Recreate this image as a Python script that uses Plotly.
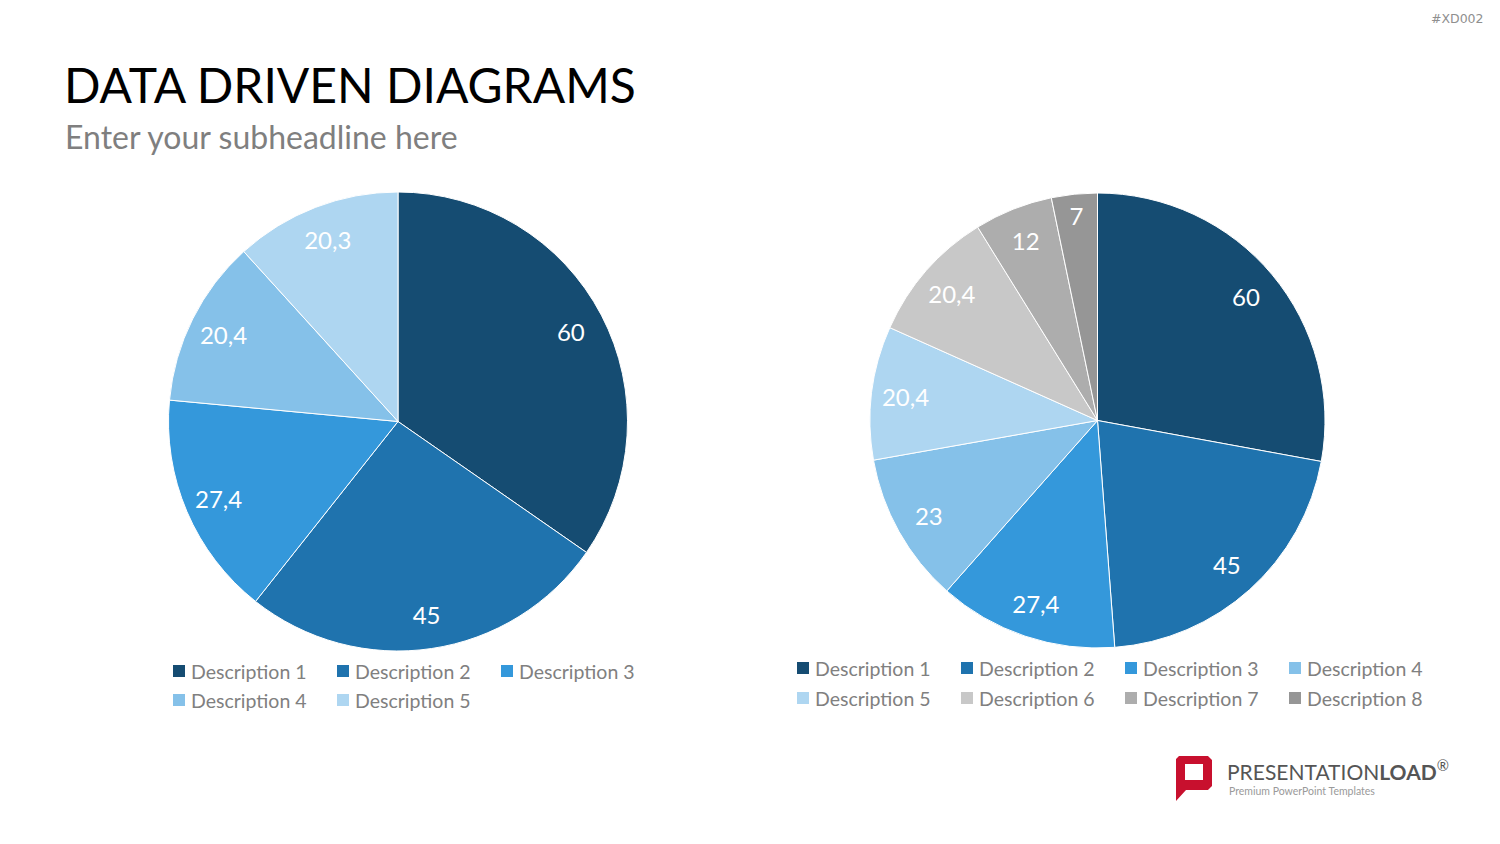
import plotly.graph_objects as go

W, H = 1500, 844

# ---------------- data ----------------
left_labels = ["Description 1", "Description 2", "Description 3", "Description 4", "Description 5"]
left_values = [60, 45, 27.4, 20.4, 20.3]
left_colors = ["#154c72", "#1f73ae", "#3498db", "#85c1e9", "#aed6f1"]

right_labels = ["Description 1", "Description 2", "Description 3", "Description 4",
                "Description 5", "Description 6", "Description 7", "Description 8"]
right_values = [60, 45, 27.4, 23, 20.4, 20.4, 12, 7]
right_colors = ["#154c72", "#1f73ae", "#3498db", "#85c1e9",
                "#aed6f1", "#c8c8c8", "#adadad", "#969696"]

FONT = "Lato, 'Open Sans', sans-serif"
LEG_COLOR = "#808080"


def px(x):
    return x / W


def py(y):
    return 1 - y / H


def dom(cx, cy, r):
    return dict(x=[px(cx - r), px(cx + r)], y=[py(cy + r), py(cy - r)])


fig = go.Figure()

for labels, values, colors, d in [
    (left_labels, left_values, left_colors, dom(398, 421.5, 229.5)),
    (right_labels, right_values, right_colors, dom(1097.5, 420.5, 227.5)),
]:
    # filled slices
    fig.add_trace(go.Pie(
        labels=labels, values=values, sort=False, direction="clockwise", rotation=0,
        marker=dict(colors=colors, line=dict(color="white", width=1)),
        textinfo="none", domain=d, showlegend=False, hoverinfo="label+value",
    ))
    # transparent ring carrying the value labels near the outer edge
    fig.add_trace(go.Pie(
        labels=labels, values=values, sort=False, direction="clockwise", rotation=0,
        hole=0.7,
        marker=dict(colors=["rgba(0,0,0,0)"] * len(values), line=dict(width=0)),
        textinfo="value", textposition="inside", insidetextorientation="horizontal",
        textfont=dict(color="white", size=24, family=FONT),
        domain=d, showlegend=False, hoverinfo="skip",
    ))

shapes = []
annotations = []


def add_legend(labels, colors, x0, y0, ncols, dx, dy):
    for i, (lab, col) in enumerate(zip(labels, colors)):
        r, c = divmod(i, ncols)
        x = x0 + c * dx
        y = y0 + r * dy
        shapes.append(dict(type="rect", xref="paper", yref="paper",
                           x0=px(x), x1=px(x + 12), y0=py(y + 6), y1=py(y - 6),
                           fillcolor=col, line=dict(width=0)))
        annotations.append(dict(text=lab, xref="paper", yref="paper", x=px(x + 16), y=py(y),
                                xanchor="left", yanchor="middle", showarrow=False,
                                font=dict(size=19.5, color=LEG_COLOR, family=FONT)))


add_legend(left_labels, left_colors, 173, 671, 3, 164, 29)
add_legend(right_labels, right_colors, 797, 668, 4, 164, 30)

# titles
annotations.append(dict(text="DATA DRIVEN DIAGRAMS", xref="paper", yref="paper",
                        x=px(62), y=py(85), xanchor="left", yanchor="middle", showarrow=False,
                        font=dict(size=48, color="#000000", family=FONT)))
annotations.append(dict(text="Enter your subheadline here", xref="paper", yref="paper",
                        x=px(63), y=py(136), xanchor="left", yanchor="middle", showarrow=False,
                        font=dict(size=32, color="#7f7f7f", family=FONT)))
annotations.append(dict(text="#XD002", xref="paper", yref="paper",
                        x=px(1486), y=py(19), xanchor="right", yanchor="middle", showarrow=False,
                        font=dict(size=12.5, color="#8f8f8f", family="'DejaVu Sans', sans-serif")))

# logo
def path(points):
    return "M " + " L ".join(f"{px(a):.5f},{py(b):.5f}" for a, b in points) + " Z"


shapes.append(dict(type="path", xref="paper", yref="paper",
                   path=path([(1179, 756), (1208, 756), (1212, 760), (1212, 786), (1208, 790),
                              (1186, 790), (1176, 801), (1176, 759)]),
                   fillcolor="#c8102e", line=dict(width=0)))
shapes.append(dict(type="rect", xref="paper", yref="paper",
                   x0=px(1185), x1=px(1203), y0=py(780), y1=py(764),
                   fillcolor="white", line=dict(width=0)))
shapes.append(dict(type="rect", xref="paper", yref="paper",
                   x0=px(1185), x1=px(1190), y0=py(790), y1=py(780),
                   fillcolor="#c8102e", line=dict(width=0)))
annotations.append(dict(text="PRESENTATION<b>LOAD</b><sup>®</sup>", xref="paper", yref="paper",
                        x=px(1225), y=py(770), xanchor="left", yanchor="middle", showarrow=False,
                        font=dict(size=21, color="#555555", family=FONT)))
annotations.append(dict(text="Premium PowerPoint Templates", xref="paper", yref="paper",
                        x=px(1227), y=py(791), xanchor="left", yanchor="middle", showarrow=False,
                        font=dict(size=10.5, color="#9a9a9a", family=FONT)))

fig.update_layout(
    width=W, height=H, margin=dict(l=0, r=0, t=0, b=0),
    paper_bgcolor="white", plot_bgcolor="white",
    separators=",.", showlegend=False,
    shapes=shapes, annotations=annotations,
)

fig.write_html("out.html")
